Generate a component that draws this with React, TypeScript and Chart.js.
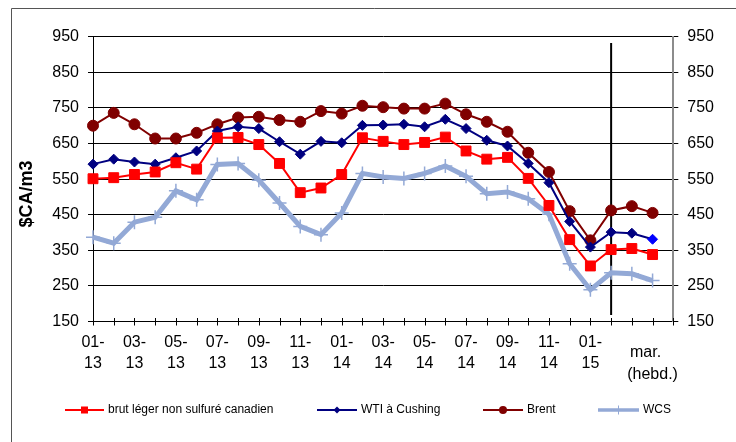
import React, { useEffect, useRef } from 'react';
import { Chart, registerables } from 'chart.js';

Chart.register(...registerables);

// ---- data ----
const categories: string[] = [
  '01-13', '02-13', '03-13', '04-13', '05-13', '06-13', '07-13', '08-13', '09-13', '10-13', '11-13', '12-13',
  '01-14', '02-14', '03-14', '04-14', '05-14', '06-14', '07-14', '08-14', '09-14', '10-14', '11-14', '12-14',
  '01-15', 'mar. s1', 'mar. s2', 'mar. s3', '',
];

// tick labels shown under the axis (index -> lines)
const xTickLabels: string[][] = [
  ['01-', '13'], [], ['03-', '13'], [], ['05-', '13'], [], ['07-', '13'], [], ['09-', '13'], [], ['11-', '13'], [],
  ['01-', '14'], [], ['03-', '14'], [], ['05-', '14'], [], ['07-', '14'], [], ['09-', '14'], [], ['11-', '14'], [],
  ['01-', '15'], [], [], [], [],
];
const weeklyLabel: string[] = ['mar.', '(hebd.)'];
const weeklyLabelIndex = 27;
const weeklyStartIndex = 25;

const seriesNames: string[] = ['brut léger non sulfuré canadien', 'WTI à Cushing', 'Brent', 'WCS'];

const brutLeger: number[] = [551, 554, 563, 570, 596, 578, 666, 667, 647, 594, 512, 525, 563, 666, 656, 647, 653, 668, 629, 606, 611, 552, 476, 380, 306, 352, 355, 338];
const wti: number[] = [592, 606, 598, 592, 610, 629, 685, 697, 692, 655, 620, 656, 652, 701, 702, 704, 697, 718, 692, 659, 643, 594, 540, 431, 359, 401, 398, 381];
const brent: number[] = [700, 736, 704, 664, 664, 680, 704, 723, 725, 716, 711, 741, 734, 756, 752, 748, 748, 762, 732, 711, 683, 624, 570, 460, 378, 462, 474, 455];
const wcs: number[] = [387, 370, 429, 443, 517, 492, 591, 594, 547, 483, 417, 394, 455, 566, 556, 552, 566, 587, 558, 509, 514, 495, 451, 312, 239, 287, 284, 265];

const yMin = 150;
const yMax = 950;
const yStep = 100;
const yTitle = '$CA/m3';

// ---- styles ----
const FONT = '"Liberation Sans", Arial, Helvetica, sans-serif';
const RED = '#FF0000';
const NAVY = '#000080';
const BLUE = '#0000FF';
const MAROON = '#800000';
const STEEL = '#93A9D6';
const TICK_SIZE = 16;

const decorPlugin = {
  id: 'decor',
  beforeDraw(chart: any) {
    const ctx = chart.ctx;
    ctx.save();
    ctx.strokeStyle = '#555555';
    ctx.lineWidth = 1;
    ctx.beginPath();
    ctx.moveTo(11.5, 1000);
    ctx.lineTo(11.5, 8.5);
    ctx.lineTo(1000, 8.5);
    ctx.stroke();
    ctx.restore();
  },
  beforeDatasetsDraw(chart: any) {
    const ctx = chart.ctx;
    const x = chart.scales.x.getPixelForValue(weeklyStartIndex);
    ctx.save();
    ctx.strokeStyle = '#000000';
    ctx.lineWidth = 2;
    ctx.beginPath();
    ctx.moveTo(x, 43);
    ctx.lineTo(x, 315);
    ctx.stroke();
    ctx.restore();
  },
  afterDraw(chart: any) {
    const ctx = chart.ctx;
    const xs = chart.scales.x;
    const area = chart.chartArea;
    ctx.save();
    // cross ticks on x axis
    ctx.strokeStyle = '#000000';
    ctx.lineWidth = 1;
    ctx.beginPath();
    for (let i = 0; i < categories.length; i++) {
      const px = Math.round(xs.getPixelForValue(i)) + 0.5;
      ctx.moveTo(px, area.bottom - 3.5);
      ctx.lineTo(px, area.bottom + 4);
    }
    ctx.stroke();

    // weekly label
    const wx = xs.getPixelForValue(weeklyLabelIndex);
    ctx.fillStyle = '#000000';
    ctx.font = `${TICK_SIZE}px ${FONT}`;
    ctx.textAlign = 'center';
    ctx.textBaseline = 'middle';
    ctx.fillText(weeklyLabel[0], wx - 7, 353);
    ctx.fillText(weeklyLabel[1], wx, 375);

    // y title
    ctx.save();
    ctx.translate(27, 194);
    ctx.rotate(-Math.PI / 2);
    ctx.font = `bold 18px ${FONT}`;
    ctx.textAlign = 'center';
    ctx.textBaseline = 'middle';
    ctx.fillText(yTitle, 0, 0);
    ctx.restore();

    // legend
    const ly = 410;
    const items = [
      { x0: 65, x1: 104, tx: 108, color: RED, w: 2, marker: 'rect' },
      { x0: 317, x1: 357, tx: 361, color: NAVY, w: 2, marker: 'diamond' },
      { x0: 483, x1: 523, tx: 527, color: MAROON, w: 2, marker: 'circle' },
      { x0: 598, x1: 639, tx: 643, color: STEEL, w: 3.5, marker: 'cross' },
    ];
    items.forEach((it, i) => {
      ctx.strokeStyle = it.color;
      ctx.fillStyle = it.color;
      ctx.lineWidth = it.w;
      ctx.beginPath();
      ctx.moveTo(it.x0, ly);
      ctx.lineTo(it.x1, ly);
      ctx.stroke();
      const cx = (it.x0 + it.x1) / 2;
      ctx.beginPath();
      if (it.marker === 'rect') {
        ctx.fillRect(cx - 3.5, ly - 3.5, 7, 7);
      } else if (it.marker === 'diamond') {
        ctx.moveTo(cx - 3.5, ly);
        ctx.lineTo(cx, ly - 3.5);
        ctx.lineTo(cx + 3.5, ly);
        ctx.lineTo(cx, ly + 3.5);
        ctx.closePath();
        ctx.fill();
      } else if (it.marker === 'circle') {
        ctx.arc(cx, ly, 4, 0, Math.PI * 2);
        ctx.fill();
      } else {
        ctx.lineWidth = 1;
        ctx.moveTo(cx, ly - 4.5);
        ctx.lineTo(cx, ly + 4.5);
        ctx.stroke();
      }
      ctx.fillStyle = '#000000';
      ctx.font = `12px ${FONT}`;
      ctx.textAlign = 'left';
      ctx.textBaseline = 'middle';
      ctx.fillText(chart.data.datasets[i].label, it.tx, ly);
    });
    ctx.restore();
  },
};

export default function App() {
  const canvasRef = useRef<HTMLCanvasElement | null>(null);

  useEffect(() => {
    if (!canvasRef.current) return;
    Chart.defaults.font.family = FONT;
    Chart.defaults.color = '#000000';
    const wtiColors = wti.map((_, i) => (i === wti.length - 1 ? BLUE : NAVY));
    const chart = new Chart(canvasRef.current, {
      type: 'line',
      data: {
        labels: categories,
        datasets: [
          {
            label: seriesNames[0],
            data: brutLeger,
            borderColor: RED,
            backgroundColor: RED,
            borderWidth: 2,
            pointStyle: 'rect',
            pointRadius: 7,
            pointBackgroundColor: RED,
            pointBorderColor: RED,
            pointBorderWidth: 1,
            tension: 0,
            fill: false,
          },
          {
            label: seriesNames[1],
            data: wti,
            borderColor: NAVY,
            backgroundColor: NAVY,
            borderWidth: 2,
            pointStyle: 'rectRot',
            pointRadius: 5,
            pointBackgroundColor: wtiColors,
            pointBorderColor: wtiColors,
            pointBorderWidth: 1,
            tension: 0,
            fill: false,
          },
          {
            label: seriesNames[2],
            data: brent,
            borderColor: MAROON,
            backgroundColor: MAROON,
            borderWidth: 2,
            pointStyle: 'circle',
            pointRadius: 5.5,
            pointBackgroundColor: MAROON,
            pointBorderColor: MAROON,
            pointBorderWidth: 1,
            tension: 0,
            fill: false,
          },
          {
            label: seriesNames[3],
            data: wcs,
            borderColor: STEEL,
            backgroundColor: STEEL,
            borderWidth: 5,
            pointStyle: 'cross',
            pointRadius: 7,
            pointBackgroundColor: STEEL,
            pointBorderColor: STEEL,
            pointBorderWidth: 1.5,
            tension: 0,
            fill: false,
          },
        ],
      },
      options: {
        responsive: false,
        animation: false,
        devicePixelRatio: 1,
        layout: { padding: { top: 36.7, left: 0, right: 0, bottom: 0 } },
        plugins: {
          legend: { display: false },
          tooltip: { enabled: false },
          title: { display: false },
        },
        scales: {
          x: {
            type: 'category',
            offset: false,
            grid: { display: true, drawOnChartArea: false, drawTicks: false },
            border: { display: true, color: '#000000', width: 1 },
            ticks: {
              autoSkip: false,
              maxRotation: 0,
              minRotation: 0,
              padding: 11,
              color: '#000000',
              font: { size: TICK_SIZE, lineHeight: '21px' },
              callback: (_v: any, i: number) => (xTickLabels[i] && xTickLabels[i].length ? xTickLabels[i] : ''),
            },
            afterFit: (s: any) => {
              s.height = 120.5;
            },
          },
          y: {
            type: 'linear',
            position: 'left',
            min: yMin,
            max: yMax,
            grid: { color: '#000000', lineWidth: 1, drawTicks: true, tickLength: 5, tickColor: '#000000' },
            border: { display: true, color: '#000000', width: 1 },
            ticks: { stepSize: yStep, padding: 9, color: '#000000', font: { size: TICK_SIZE } },
            afterFit: (s: any) => {
              s.width = 93;
            },
          },
          y1: {
            type: 'linear',
            position: 'right',
            min: yMin,
            max: yMax,
            grid: { drawOnChartArea: false, drawTicks: true, tickLength: 5, tickColor: '#000000' },
            border: { display: true, color: '#8C8C8C', width: 2 },
            ticks: { stepSize: yStep, padding: 9, color: '#000000', font: { size: TICK_SIZE } },
            afterFit: (s: any) => {
              s.width = 62.7;
            },
          },
        },
      },
      plugins: [decorPlugin],
    } as any);
    return () => chart.destroy();
  }, []);

  return (
    <div style={{ position: 'absolute', left: 0, top: 0, width: 736, height: 442, background: '#ffffff' }}>
      <canvas ref={canvasRef} width={736} height={442} style={{ display: 'block', width: 736, height: 442 }} />
    </div>
  );
}
